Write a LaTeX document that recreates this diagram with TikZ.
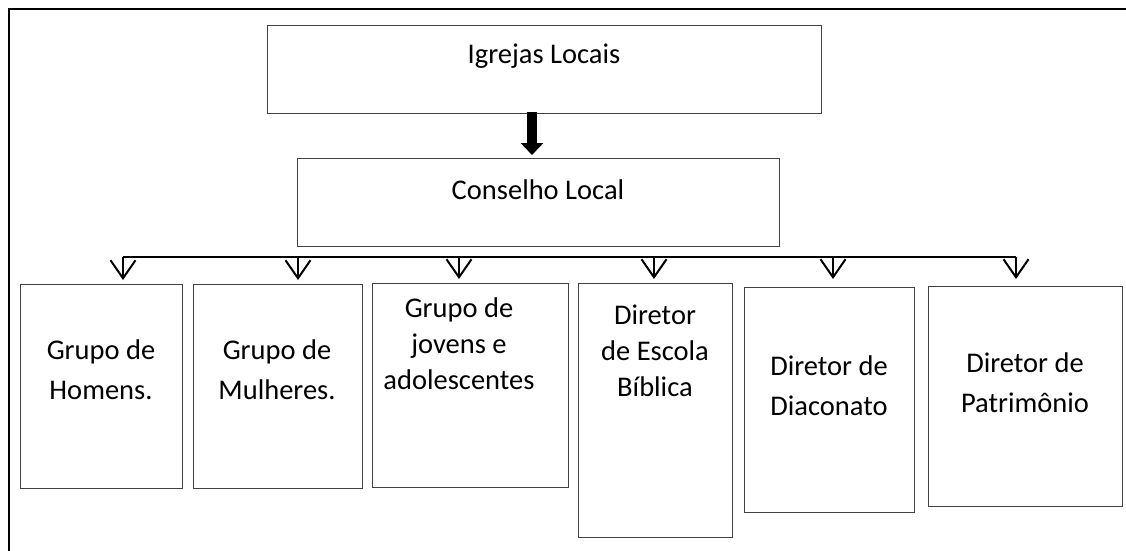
\documentclass[tikz,border=0pt]{standalone}
\usepackage{fontspec}
\setmainfont{Carlito}
\usetikzlibrary{arrows.meta}
\begin{document}
\begin{tikzpicture}[x=1pt,y=-1pt,
  box/.style={draw=black!75, line width=1.1pt, inner sep=0pt, anchor=north west},
  lbl/.style={align=center, inner sep=0pt, font=\fontsize{28.5}{40}\selectfont},
  lbltight/.style={lbl, font=\fontsize{28.5}{36}\selectfont},
  drop/.style={line width=2pt, -{Straight Barb[length=18pt 0 0,width=25pt 0 0,line width=2pt]}},
  bigarrow/.style={line width=10pt, -{Triangle[length=12pt 0 0,width=22pt 0 0]}}]
\useasboundingbox (0,0) rectangle (1126,550);
% outer frame (top and left)
\draw[line width=2.2pt] (9,560) -- (9,9) -- (1130,9);
% boxes
\node[box, minimum width=554pt, minimum height=88pt] (igrejas) at (267,25) {};
\node[lbl] (tigrejas) at (544,56) {Igrejas Locais};
\node[box, minimum width=482pt, minimum height=88pt] (conselho) at (297,158) {};
\node[lbl] (tconselho) at (538,190) {Conselho Local};
\node[box, minimum width=162pt, minimum height=204pt] (b1) at (20,284) {};
\node[lbl] (t1) at (101,370) {Grupo de\\Homens.};
\node[box, minimum width=169pt, minimum height=204pt] (b2) at (193,284) {};
\node[lbl] (t2) at (277,370) {Grupo de\\Mulheres.};
\node[box, minimum width=196pt, minimum height=204pt] (b3) at (372,283) {};
\node[lbltight] (t3) at (459,344) {Grupo de\\jovens e\\adolescentes};
\node[box, minimum width=154pt, minimum height=254pt] (b4) at (578,283) {};
\node[lbltight] (t4) at (655,351) {Diretor\\de Escola\\Bíblica};
\node[box, minimum width=170pt, minimum height=225pt] (b5) at (744,287) {};
\node[lbl] (t5) at (829,386) {Diretor de\\Diaconato};
\node[box, minimum width=194pt, minimum height=220pt] (b6) at (928,286) {};
\node[lbl] (t6) at (1025,383) {Diretor de\\Patrimônio};
% thick arrow
\coordinate (ax) at (532,0);
\draw[bigarrow] ([yshift=2pt]igrejas.south -| ax) -- ([yshift=3pt]conselho.north -| ax);
% bus
\coordinate (d1) at (123,257);
\coordinate (d2) at (298,257);
\coordinate (d3) at (459,257);
\coordinate (d4) at (654,257);
\coordinate (d5) at (833,257);
\coordinate (d6) at (1016,257);
\draw[line width=2pt] (d1) -- (d6);
\draw[drop, shorten >=4pt] (d1) -- (d1 |- b1.north);
\draw[drop, shorten >=4pt] (d2) -- (d2 |- b2.north);
\draw[drop, shorten >=4pt] (d3) -- (d3 |- b3.north);
\draw[drop, shorten >=4pt] (d4) -- (d4 |- b4.north);
\draw[drop, shorten >=8pt] (d5) -- (d5 |- b5.north);
\draw[drop, shorten >=7pt] (d6) -- (d6 |- b6.north);
\end{tikzpicture}
\end{document}
